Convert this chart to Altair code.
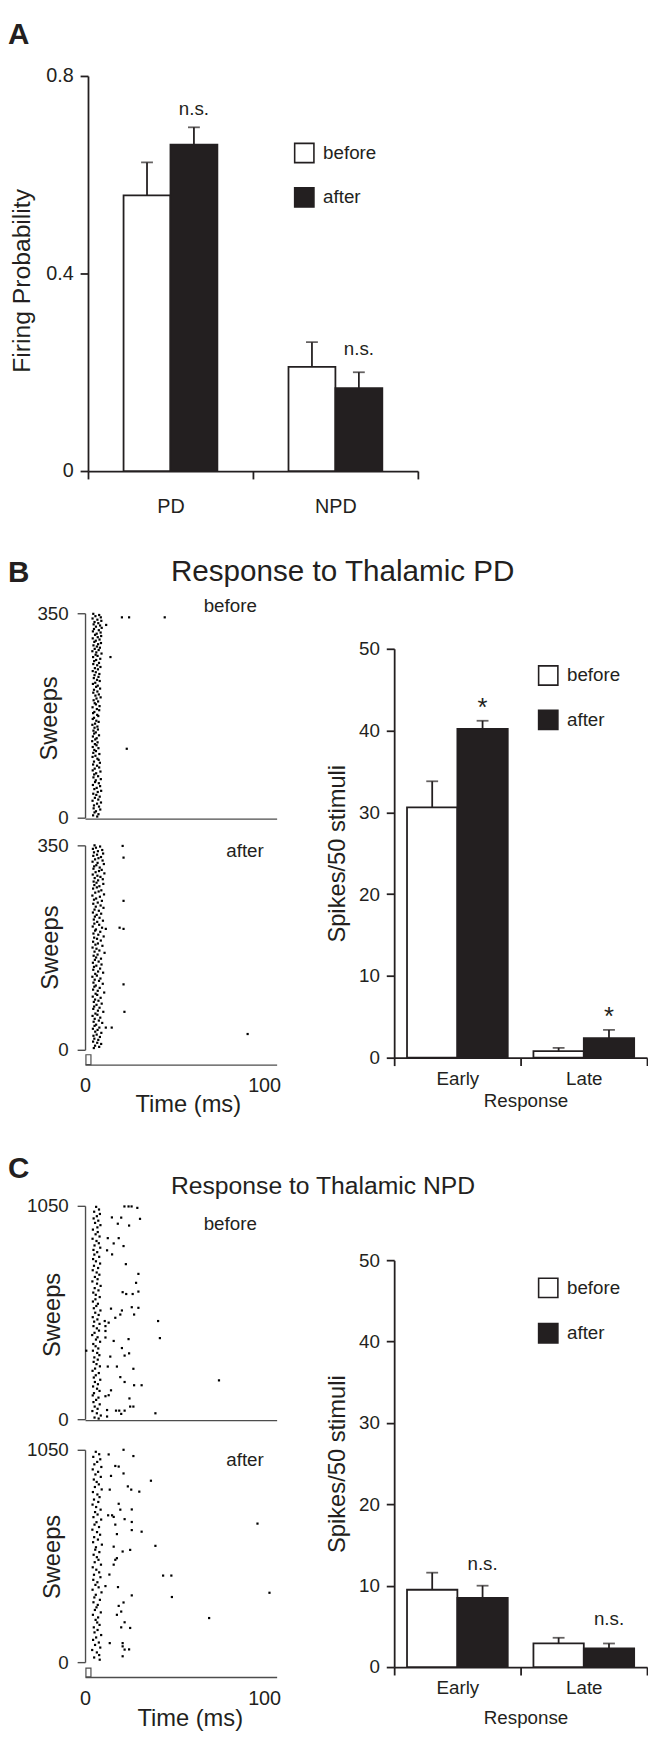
import altair as alt
import pandas as pd

FONT = "Liberation Sans"
INK = "#231f20"
GRAY = "#4d4d4d"
W, H = 648, 1730

GROUPS = ["before", "after"]

# ---------------- Panel A ----------------
A_CATS = ["PD", "NPD"]
A_BEFORE = [0.558, 0.211]
A_AFTER = [0.661, 0.168]
A_BEFORE_TOP = [0.625, 0.261]
A_AFTER_TOP = [0.696, 0.200]
A_SIG = ["n.s.", "n.s."]
A_SIG_Y = [0.732, 0.246]
A_Y_TICKS = [0, 0.4, 0.8]

# ---------------- Panels B / C bars ----------------
RESP = ["Early", "Late"]
RESP_Y_TICKS = [0, 10, 20, 30, 40, 50]
B_BEFORE = [30.6, 0.8]
B_AFTER = [40.2, 2.4]
B_BEFORE_TOP = [33.8, 1.2]
B_AFTER_TOP = [41.2, 3.4]
B_SIG = ["*", "*"]
B_SIG_Y = [43.6, 5.8]

C_BEFORE = [9.5, 2.9]
C_AFTER = [8.5, 2.3]
C_BEFORE_TOP = [11.6, 3.6]
C_AFTER_TOP = [10.0, 2.9]
C_SIG = ["n.s.", "n.s."]
C_SIG_Y = [12.7, 5.9]

# ---------------- Rasters: (sweep, latency ms) ----------------
TIME_TICKS = [0, 100]
STIM_MS = [0.5, 3.3]

B_BEFORE_EARLY = [
    (349, 4.6), (347, 7.9), (345, 5.8), (343, 8.8), (341, 4.2), (339, 6.9), (337, 9.1), (335, 5.3), (333, 7.4),
    (331, 4.8), (329, 8.4), (327, 6.1), (325, 9.3), (323, 5.0), (321, 7.7), (319, 4.4), (317, 8.7), (315, 6.5),
    (313, 5.6), (311, 9.0), (309, 7.1), (307, 4.3), (305, 8.1), (303, 6.0), (301, 5.2), (299, 8.9), (297, 7.3),
    (295, 4.7), (293, 6.6), (291, 8.3), (289, 5.4), (287, 7.6), (285, 4.1), (283, 6.3), (281, 9.2), (279, 5.9),
    (277, 7.0), (275, 4.5), (272, 8.5), (270, 6.2), (268, 5.1), (265, 7.8), (263, 4.6), (261, 6.8), (258, 8.6),
    (256, 5.5), (254, 7.2), (251, 4.3), (249, 6.0), (246, 8.0), (244, 5.3), (241, 7.5), (239, 4.9), (236, 6.7),
    (234, 8.2), (231, 5.7), (229, 4.4), (226, 7.1), (224, 6.2), (221, 8.4), (219, 5.0), (216, 6.9), (214, 4.6),
    (211, 7.7), (209, 5.8), (206, 8.7), (204, 6.4), (201, 4.8), (199, 7.3), (196, 5.4), (194, 6.1), (191, 8.1),
    (189, 4.2), (186, 6.6), (184, 7.9), (181, 5.2), (179, 4.5), (176, 6.8), (174, 7.4), (171, 5.0), (169, 4.3),
    (166, 6.3), (164, 7.6), (161, 5.6), (159, 4.1), (156, 6.9), (154, 5.3), (151, 7.2), (149, 4.7), (146, 6.0),
    (144, 5.1), (141, 7.8), (139, 4.4), (136, 6.5), (134, 5.7), (131, 4.0), (129, 7.0), (126, 5.5), (124, 6.4),
    (121, 4.3), (119, 7.5), (116, 5.2), (114, 6.1), (111, 4.6), (109, 8.0), (106, 5.8), (104, 4.2), (101, 6.9),
    (99, 7.6), (96, 5.0), (94, 8.3), (91, 4.5), (89, 6.7), (86, 7.9), (84, 5.4), (81, 4.3), (79, 8.6), (76, 6.2),
    (74, 5.1), (71, 7.3), (69, 4.7), (66, 8.8), (64, 6.0), (61, 5.6), (59, 7.7), (56, 4.4), (54, 8.4), (51, 6.5),
    (49, 5.2), (46, 9.0), (44, 7.1), (41, 4.6), (39, 6.3), (36, 8.2), (34, 5.5), (31, 7.4), (29, 4.2), (26, 8.9),
    (24, 6.7), (21, 5.0), (19, 7.8), (16, 4.8), (14, 8.5), (11, 6.1), (9, 5.3), (6, 7.5), (4, 4.5), (2, 6.8),
]
B_BEFORE_LATE = [(343, 20.6), (343, 24.6), (343, 44.5), (330, 11.8), (275, 14.2), (118, 23.3)]

B_AFTER_EARLY = [
    (350, 5.3), (348, 8.4), (346, 6.1), (344, 4.4), (342, 9.6), (340, 7.2), (338, 5.0), (336, 10.1), (334, 6.7),
    (332, 4.6), (330, 8.9), (328, 7.5), (326, 5.6), (324, 9.8), (322, 4.2), (320, 7.0), (318, 10.5), (316, 6.3),
    (314, 5.1), (312, 8.2), (310, 4.7), (308, 9.3), (306, 7.8), (304, 5.9), (302, 10.8), (300, 4.3), (298, 6.9),
    (296, 8.6), (294, 5.4), (292, 9.9), (290, 7.3), (288, 4.8), (286, 6.4), (284, 10.2), (282, 5.2), (280, 8.0),
    (278, 6.6), (276, 4.5), (273, 9.1), (271, 7.6), (269, 5.7), (266, 10.6), (264, 4.1), (262, 8.3), (259, 6.2),
    (257, 5.0), (255, 9.4), (252, 7.1), (250, 4.6), (247, 8.7), (245, 6.0), (243, 10.3), (240, 5.3), (238, 7.7),
    (235, 4.4), (233, 9.0), (231, 6.5), (228, 5.5), (226, 8.1), (223, 4.9), (221, 10.0), (219, 6.8), (216, 5.2),
    (214, 7.9), (211, 4.3), (209, 9.5), (206, 6.1), (204, 5.6), (202, 8.5), (199, 4.7), (197, 7.4), (194, 10.4),
    (192, 5.1), (190, 6.7), (187, 8.8), (185, 4.5), (182, 7.2), (180, 5.8), (178, 9.7), (175, 4.2), (173, 6.4),
    (170, 8.0), (168, 5.3), (166, 10.9), (163, 7.0), (161, 4.8), (158, 6.2), (156, 8.9), (154, 5.5), (151, 7.6),
    (149, 4.4), (146, 9.2), (144, 6.3), (142, 5.0), (139, 8.4), (137, 4.6), (134, 7.3), (132, 10.1), (130, 5.7),
    (127, 6.6), (125, 4.1), (122, 8.6), (120, 5.4), (118, 7.8), (115, 4.7), (113, 9.9), (110, 6.0), (108, 5.2),
    (106, 8.2), (103, 4.5), (101, 7.1), (98, 10.7), (96, 5.9), (94, 6.8), (91, 4.3), (89, 8.7), (86, 5.6),
    (84, 7.5), (82, 4.9), (79, 9.3), (77, 6.4), (74, 5.1), (72, 8.1), (70, 4.6), (67, 7.2), (65, 10.2), (62, 5.8),
    (60, 6.9), (58, 4.2), (55, 8.5), (53, 5.4), (50, 7.7), (48, 4.8), (46, 9.6), (43, 6.2), (41, 5.3), (38, 8.0),
    (36, 4.4), (34, 7.0), (31, 5.7), (29, 9.1), (26, 6.5), (24, 4.7), (22, 8.3), (19, 5.2), (17, 7.4), (14, 4.5),
    (12, 6.8), (10, 9.0), (7, 5.6), (5, 7.9), (3, 4.9),
]
B_AFTER_LATE = [(349, 21.0), (329, 21.5), (255, 21.5), (207, 11.6), (209, 19.3), (207, 21.5), (112, 21.5),
                (65, 22.0), (38, 11.6), (38, 14.9), (27, 90.8)]

C_BEFORE_EARLY = [
    (1045, 6.2), (1032, 7.8), (1021, 5.1), (1010, 8.3), (999, 6.6), (988, 4.8), (977, 7.4), (966, 5.6), (955, 8.6),
    (944, 6.9), (933, 4.4), (921, 7.1), (910, 5.9), (899, 8.1), (888, 4.2), (877, 6.4), (866, 7.7), (855, 5.3),
    (844, 8.5), (833, 4.7), (822, 6.8), (810, 5.2), (799, 7.9), (788, 4.5), (777, 6.1), (766, 8.4), (755, 5.0),
    (744, 7.3), (733, 4.3), (722, 6.5), (711, 8.0), (700, 5.5), (689, 7.0), (678, 4.1), (667, 6.7), (656, 8.7),
    (645, 5.4), (634, 7.5), (623, 4.6), (612, 6.0), (601, 8.2), (590, 5.8), (579, 4.4), (568, 7.2), (557, 6.3),
    (546, 4.9), (535, 8.6), (524, 5.7), (513, 7.6), (502, 4.3), (491, 6.9), (480, 5.1), (469, 8.1), (458, 4.7),
    (447, 6.6), (436, 7.8), (425, 5.3), (414, 4.0), (403, 7.0), (392, 6.1), (381, 8.4), (370, 4.6), (359, 5.9),
    (348, 7.4), (337, 4.4), (326, 6.8), (315, 8.0), (304, 5.2), (293, 7.1), (282, 4.8), (271, 6.4), (260, 8.3),
    (249, 5.6), (238, 4.2), (227, 7.7), (216, 6.0), (205, 4.9), (194, 8.5), (183, 5.5), (172, 7.2), (161, 4.5),
    (150, 6.7), (139, 8.1), (128, 5.0), (117, 4.3), (106, 7.5), (95, 6.2), (84, 4.7), (73, 8.2), (62, 5.4),
    (51, 7.0), (40, 4.1), (29, 6.6), (18, 8.8), (8, 5.3), (3, 7.6),
]
C_BEFORE_LATE = [
    (1047, 22.0), (1047, 24.3), (1047, 26.0), (1040, 29.2), (993, 15.0), (992, 20.2), (986, 30.7), (962, 18.3),
    (953, 24.6), (891, 12.7), (891, 18.8), (865, 16.0), (852, 21.5), (831, 12.3), (811, 15.1), (763, 22.8),
    (715, 29.8), (671, 28.5), (625, 21.0), (616, 23.0), (616, 26.6), (628, 29.8), (544, 14.5), (535, 20.6),
    (551, 26.1), (548, 29.8), (515, 19.7), (499, 16.9), (515, 27.4), (483, 11.0), (475, 13.2), (483, 40.8),
    (434, 11.4), (458, 11.4), (402, 11.4), (399, 41.8), (385, 16.0), (394, 24.3), (337, 0.7), (350, 20.6),
    (324, 24.6), (313, 22.1), (308, 14.1), (259, 12.7), (259, 17.8), (248, 27.0), (207, 19.7), (183, 22.1),
    (167, 27.4), (167, 31.6), (191, 74.8), (142, 14.5), (118, 13.2), (113, 11.4), (102, 24.8), (62, 27.0),
    (62, 25.2), (42, 17.3), (42, 19.1), (42, 22.1), (26, 20.2), (13, 12.3), (45, 12.3), (29, 39.3),
]

C_AFTER_EARLY = [
    (1040, 6.0), (1028, 7.9), (1015, 4.6), (1003, 8.5), (990, 6.8), (978, 5.2), (965, 9.1), (953, 4.3), (941, 7.3),
    (928, 5.8), (916, 8.8), (903, 4.9), (891, 6.5), (879, 7.7), (866, 5.5), (854, 9.3), (841, 4.4), (829, 6.9),
    (816, 8.1), (804, 5.0), (792, 7.4), (779, 4.2), (767, 6.2), (754, 8.7), (742, 5.6), (730, 7.0), (717, 4.7),
    (705, 9.0), (692, 6.4), (680, 5.3), (668, 7.8), (655, 4.1), (643, 6.7), (630, 8.4), (618, 5.1), (606, 7.2),
    (593, 4.5), (581, 9.4), (568, 6.1), (556, 5.7), (544, 8.0), (531, 4.8), (519, 6.6), (506, 7.5), (494, 5.4),
    (482, 8.9), (469, 4.3), (457, 6.3), (444, 7.9), (432, 5.0), (420, 8.6), (407, 4.6), (395, 6.9), (382, 5.8),
    (370, 7.6), (358, 4.2), (345, 9.2), (333, 6.0), (320, 5.2), (308, 8.3), (296, 4.7), (283, 7.1), (271, 6.4),
    (258, 5.5), (246, 8.8), (234, 4.4), (221, 7.3), (209, 5.9), (196, 6.8), (184, 8.1), (172, 4.9), (159, 7.0),
    (147, 5.3), (134, 9.0), (122, 6.2), (110, 4.5), (97, 7.7), (85, 5.6), (72, 8.5), (60, 4.0), (48, 6.6),
    (35, 7.9), (23, 5.1), (12, 8.2),
]
C_AFTER_LATE = [
    (1050, 21.5), (1019, 27.0), (1027, 13.2), (970, 16.9), (967, 18.8), (933, 21.5), (921, 14.5), (897, 36.8),
    (853, 13.8), (869, 23.9), (853, 25.8), (843, 30.3), (783, 18.8), (726, 12.9), (726, 15.1), (718, 16.0),
    (754, 19.7), (755, 26.1), (707, 22.1), (693, 26.1), (680, 16.9), (685, 96.3), (645, 31.6), (653, 26.1),
    (633, 17.8), (575, 39.3), (571, 16.0), (555, 25.2), (547, 21.0), (514, 17.8), (506, 16.9), (482, 16.0),
    (433, 13.6), (428, 43.6), (428, 48.2), (376, 11.4), (371, 18.4), (330, 26.1), (322, 48.5), (343, 103.0),
    (278, 18.8), (295, 21.5), (234, 17.8), (250, 20.2), (197, 22.1), (169, 25.2), (172, 20.2), (218, 69.3),
    (94, 13.8), (94, 21.0), (78, 21.0), (63, 24.6), (62, 22.1), (29, 21.0),
]


def text_layer(txt, x, y, size, weight="normal", align="center", baseline="middle"):
    return alt.Chart(pd.DataFrame({"t": [txt]})).mark_text(
        font=FONT, fontSize=size, fontWeight=weight, color=INK, align=align, baseline=baseline
    ).encode(x=alt.value(x), y=alt.value(y), text="t:N")


def bar_panel(cats, before, after, before_top, after_top, sig, sig_y, cfg):
    rows = []
    for i, c in enumerate(cats):
        rows.append({"cat": c, "grp": "before", "val": before[i], "top": before_top[i]})
        rows.append({"cat": c, "grp": "after", "val": after[i], "top": after_top[i]})
    df = pd.DataFrame(rows)
    sdf = pd.DataFrame({"cat": cats, "grp": ["after"] * len(cats), "y": sig_y, "t": sig})

    xs = alt.Scale(domain=cats, range=cfg["xr"], paddingInner=0, paddingOuter=0)
    xo = alt.Scale(domain=GROUPS, paddingInner=0, paddingOuter=cfg["po"])
    ys = alt.Scale(domain=cfg["ydom"], range=cfg["yr"], nice=False, zero=False)
    x0 = cfg["xr"][0]
    base_y = cfg["yr"][0]

    xkw = dict(orient="bottom", offset=base_y - H, tickBand="extent", tickSize=8, tickWidth=1.8,
               tickColor=INK, domainColor=INK, domainWidth=1.8, grid=False, labelAngle=0,
               labelFont=FONT, labelFontSize=cfg["xlab_fs"], labelColor=INK, labelPadding=cfg["xlab_pad"])
    if "xtitle" in cfg:
        xkw.update(title=cfg["xtitle"], titleFont=FONT, titleFontSize=cfg["xtitle_fs"], titleFontWeight="normal",
                   titleColor=INK, titleX=cfg["xtitle_x"], titleY=cfg["xtitle_y"], titleBaseline="middle",
                   titleAlign="center")
    else:
        xkw.update(title=None)
    xaxis = alt.Axis(**xkw)

    yaxis = alt.Axis(orient="left", offset=-x0, values=cfg["yticks"], format=cfg["yfmt"], tickSize=8,
                     tickWidth=1.8, tickColor=INK, domainColor=INK, domainWidth=1.8, grid=False,
                     labelFont=FONT, labelFontSize=cfg["ylab_fs"], labelColor=INK, labelPadding=7,
                     title=cfg["ytitle"], titleFont=FONT, titleFontSize=cfg["ytitle_fs"], titleFontWeight="normal",
                     titleColor=INK, titleX=cfg["ytitle_x"] - x0, titleY=cfg["ytitle_y"], titleAngle=270,
                     titleAlign="center", titleBaseline="middle")

    leg = alt.Legend(title=None, orient="none", legendX=cfg["leg_x"], legendY=cfg["leg_y"], direction="vertical",
                     symbolType="square", symbolSize=380, symbolStrokeColor=INK, symbolStrokeWidth=1.6,
                     labelFont=FONT, labelFontSize=cfg["leg_fs"], labelColor=INK, labelOffset=8,
                     rowPadding=cfg["leg_gap"], padding=0)

    X = alt.X("cat:N", scale=xs, axis=xaxis)
    XO = alt.XOffset("grp:N", scale=xo)
    bars = alt.Chart(df).mark_bar(stroke=INK, strokeWidth=1.8).encode(
        x=X, xOffset=XO,
        y=alt.Y("val:Q", scale=ys, axis=yaxis),
        fill=alt.Fill("grp:N", scale=alt.Scale(domain=GROUPS, range=["white", INK]), legend=leg),
    )
    err = alt.Chart(df).mark_rule(color=INK, strokeWidth=1.8).encode(
        x=X, xOffset=XO,
        y=alt.Y("val:Q", scale=ys, axis=yaxis), y2="top:Q",
    )
    caps = alt.Chart(df).mark_tick(color=INK, thickness=1.8, size=cfg["cap"], orient="horizontal").encode(
        x=X, xOffset=XO,
        y=alt.Y("top:Q", scale=ys, axis=yaxis),
    )
    sigs = alt.Chart(sdf).mark_text(font=FONT, fontSize=cfg["sig_fs"], color=INK,
                                    baseline=cfg["sig_base"], dy=cfg["sig_dy"]).encode(
        x=X, xOffset=XO,
        y=alt.Y("y:Q", scale=ys, axis=yaxis), text="t:N",
    )
    return alt.layer(bars, err, caps, sigs)


def raster(spikes, ymax, cfg):
    df = pd.DataFrame(spikes, columns=["sweep", "ms"])
    x0 = cfg["x0"]
    xs = alt.Scale(domain=[0, 107], range=[x0, x0 + 194], nice=False, zero=False)
    ys = alt.Scale(domain=[0, ymax], range=cfg["yr"], nice=False, zero=False)
    xkw = dict(orient="bottom", offset=cfg["xaxis_y"] - H, values=TIME_TICKS, ticks=False, tickSize=0,
               domainColor=GRAY, domainWidth=1.4, grid=False, labelFlush=False)
    if cfg["labels"]:
        xkw.update(labels=True, labelFont=FONT, labelFontSize=20, labelColor=INK, labelPadding=cfg["xlab_pad"],
                   title="Time (ms)", titleFont=FONT, titleFontSize=24, titleFontWeight="normal", titleColor=INK,
                   titleX=cfg["tt_x"], titleY=cfg["tt_y"], titleBaseline="middle", titleAlign="center")
    else:
        xkw.update(labels=False, title=None)
    xaxis = alt.Axis(**xkw)
    ykw = dict(orient="left", offset=-x0, values=[0, ymax], format="d", tickSize=8, tickWidth=1.4,
               tickColor=GRAY, domainColor=GRAY, domainWidth=1.4, grid=False, labelFont=FONT, labelFontSize=19,
               labelColor=INK, labelPadding=9, title="Sweeps", titleFont=FONT, titleFontSize=24,
               titleFontWeight="normal", titleColor=INK, titleX=cfg["sw_x"] - x0, titleY=cfg["sw_y"],
               titleAngle=270, titleAlign="center", titleBaseline="middle")
    dots = alt.Chart(df).mark_square(size=5, color="black", opacity=1).encode(
        x=alt.X("ms:Q", scale=xs, axis=xaxis),
        y=alt.Y("sweep:Q", scale=ys, axis=alt.Axis(**ykw)),
    )
    layers = [dots]
    if "stim" in cfg:
        sdf = pd.DataFrame({"t0": [STIM_MS[0]], "t1": [STIM_MS[1]]})
        layers.append(alt.Chart(sdf).mark_rect(fill="white", stroke=GRAY, strokeWidth=1.2).encode(
            x=alt.X("t0:Q", scale=xs, axis=xaxis), x2="t1:Q",
            y=alt.value(cfg["stim"][0]), y2=alt.value(cfg["stim"][1]),
        ))
    return alt.layer(*layers)


panel_a = bar_panel(A_CATS, A_BEFORE, A_AFTER, A_BEFORE_TOP, A_AFTER_TOP, A_SIG, A_SIG_Y, dict(
    xr=[81, 415], po=0.758, ydom=[0, 0.8], yr=[458, 58], yticks=A_Y_TICKS, yfmt="~g", ylab_fs=20,
    ytitle="Firing Probability", ytitle_fs=25, ytitle_x=14, ytitle_y=265,
    xlab_fs=20, xlab_pad=18,
    leg_x=289, leg_y=125, leg_gap=19, leg_fs=19, cap=12, sig_fs=19, sig_base="middle", sig_dy=0,
))

panel_b = bar_panel(RESP, B_BEFORE, B_AFTER, B_BEFORE_TOP, B_AFTER_TOP, B_SIG, B_SIG_Y, dict(
    xr=[391, 647], po=0.255, ydom=[0, 50], yr=[1052, 638], yticks=RESP_Y_TICKS, yfmt="d", ylab_fs=19,
    ytitle="Spikes/50 stimuli", ytitle_fs=24, ytitle_x=334, ytitle_y=845,
    xlab_fs=19, xlab_pad=4, xtitle="Response", xtitle_fs=19, xtitle_x=524, xtitle_y=43,
    leg_x=536, leg_y=654, leg_gap=19, leg_fs=19, cap=12, sig_fs=26, sig_base="alphabetic", sig_dy=15,
))

panel_c = bar_panel(RESP, C_BEFORE, C_AFTER, C_BEFORE_TOP, C_AFTER_TOP, C_SIG, C_SIG_Y, dict(
    xr=[391, 647], po=0.255, ydom=[0, 50], yr=[1669, 1257], yticks=RESP_Y_TICKS, yfmt="d", ylab_fs=19,
    ytitle="Spikes/50 stimuli", ytitle_fs=24, ytitle_x=334, ytitle_y=1463,
    xlab_fs=19, xlab_pad=4, xtitle="Response", xtitle_fs=19, xtitle_x=524, xtitle_y=51,
    leg_x=536, leg_y=1274, leg_gap=20, leg_fs=19, cap=12, sig_fs=19, sig_base="middle", sig_dy=0,
))

r_b_before = raster(B_BEFORE_EARLY + B_BEFORE_LATE, 350, dict(
    x0=78, yr=[809, 602], xaxis_y=810, labels=False, sw_x=42, sw_y=708))
r_b_after = raster(B_AFTER_EARLY + B_AFTER_LATE, 350, dict(
    x0=78, yr=[1044, 837], xaxis_y=1059, labels=True, xlab_pad=11, tt_x=182, tt_y=40,
    sw_x=43, sw_y=940, stim=[1049, 1059]))
r_c_before = raster(C_BEFORE_EARLY + C_BEFORE_LATE, 1050, dict(
    x0=78, yr=[1418, 1202], xaxis_y=1419, labels=False, sw_x=45, sw_y=1312))
r_c_after = raster(C_AFTER_EARLY + C_AFTER_LATE, 1050, dict(
    x0=78, yr=[1664, 1449], xaxis_y=1679, labels=True, xlab_pad=12, tt_x=184, tt_y=42,
    sw_x=45, sw_y=1557, stim=[1670, 1679]))

texts = [
    text_layer("A", 0, 26, 30, "bold", "left", "alphabetic"),
    text_layer("B", 0, 570, 30, "bold", "left", "alphabetic"),
    text_layer("C", 0, 1174, 30, "bold", "left", "alphabetic"),
    text_layer("Response to Thalamic PD", 165, 569, 30, "normal", "left", "alphabetic"),
    text_layer("Response to Thalamic NPD", 165, 1190, 25, "normal", "left", "alphabetic"),
    text_layer("before", 225, 595, 19),
    text_layer("after", 240, 843, 19),
    text_layer("before", 225, 1220, 19),
    text_layer("after", 240, 1459, 19),
]

chart = alt.layer(
    panel_a, panel_b, panel_c, r_b_before, r_b_after, r_c_before, r_c_after, *texts
).properties(
    width=W, height=H, padding=0, autosize=alt.AutoSizeParams(type="none")
).resolve_scale(
    x="independent", y="independent", xOffset="independent", fill="independent"
).resolve_axis(
    x="independent", y="independent"
).resolve_legend(
    fill="independent"
).configure_view(stroke=None)

chart.save("out.html", embed_options={"renderer": "svg", "actions": False})
